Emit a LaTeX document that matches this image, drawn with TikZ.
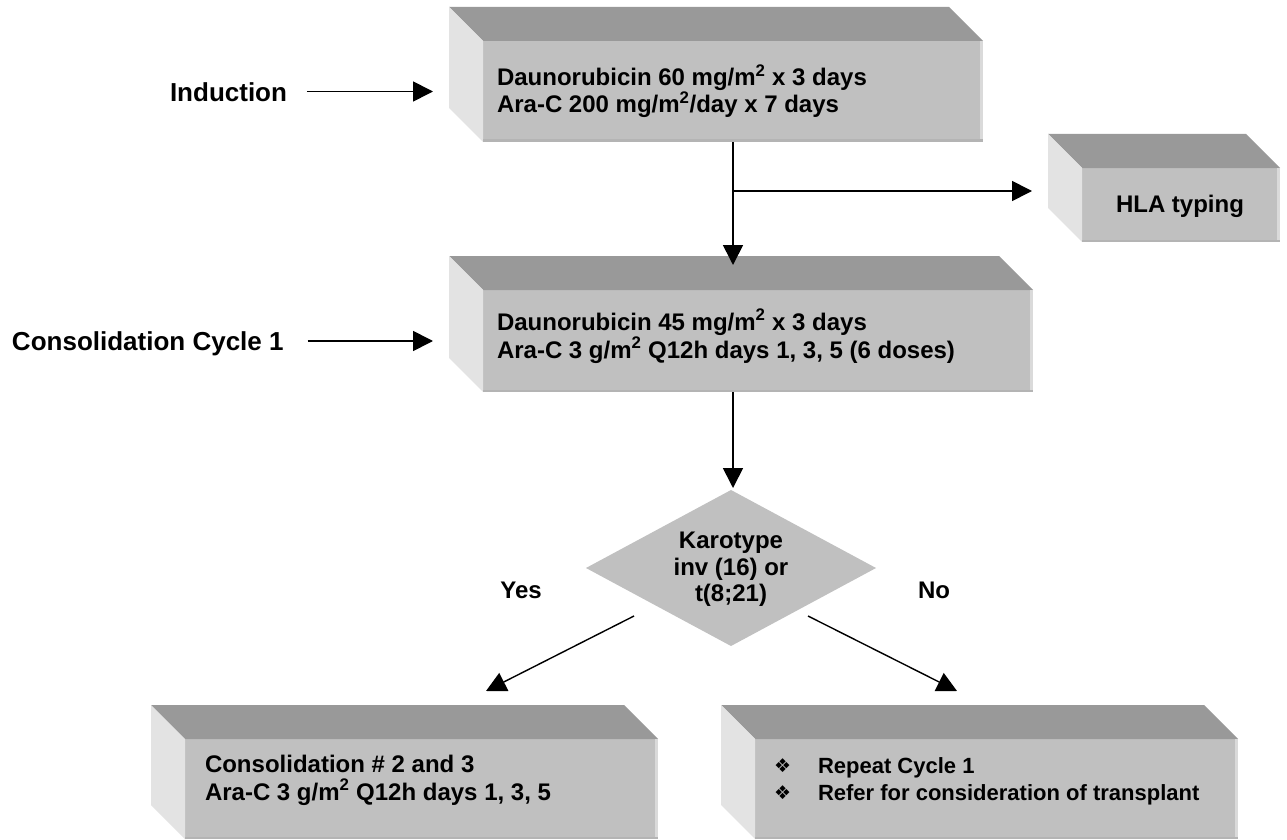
\documentclass[tikz,border=0pt]{standalone}
\usepackage{fontspec}
\setmainfont{Liberation Sans}
\newfontfamily\symfont{DejaVu Sans}
\usetikzlibrary{arrows.meta,calc,shapes.geometric}
\definecolor{frontc}{HTML}{C0C0C0}
\definecolor{topc}{HTML}{999999}
\definecolor{sidec}{HTML}{E3E3E3}
\definecolor{edgec}{HTML}{DADADA}
\definecolor{bottomc}{HTML}{B4B4B4}
\newcommand{\bevelfaces}[1]{%
  \fill[topc] (#1.north west) -- ++(-34,-34) -- ([shift={(-34pt,34pt)}]#1.north east) -- (#1.north east) -- cycle;
  \fill[sidec] (#1.north west) -- ++(-34,-34) -- ([shift={(-34pt,34pt)}]#1.south west) -- (#1.south west) -- cycle;
  \fill[edgec] ([xshift=-3pt]#1.north east) rectangle (#1.south east);
  \fill[bottomc] ([yshift=2.5pt]#1.south west) rectangle (#1.south east);
}
\begin{document}
\begin{tikzpicture}[x=1pt,y=-1pt,
  every node/.style={inner sep=0pt,outer sep=0pt},
  front/.style={fill=frontc},
  boxtxt/.style={font=\bfseries\fontsize{24}{27}\selectfont,anchor=base west},
  smalltxt/.style={font=\bfseries\fontsize{22}{26}\selectfont,anchor=base west},
  lbl/.style={font=\bfseries\fontsize{26}{30}\selectfont,anchor=base west},
  bul/.style={font=\symfont\fontsize{19}{19}\selectfont,anchor=west},
  arr/.style={line width=1.7pt,-{Triangle[length=20pt,width=20pt]}},
  arrd/.style={line width=1.4pt,-{Triangle[length=20pt,width=20pt]}}]
\fill[white] (0,0) rectangle (1287,840);
\useasboundingbox (0,0) rectangle (1287,840);

% boxes (front faces)
\node[front,minimum width=500,minimum height=101] (topb) at (733,91.5) {};
\node[front,minimum width=550,minimum height=102] (midb) at (758,341) {};
\node[front,minimum width=198,minimum height=74] (hla) at (1181,205) {};
\node[front,minimum width=473,minimum height=100] (bl) at (421.5,789) {};
\node[front,minimum width=483,minimum height=100] (br) at (996.5,789) {};
\bevelfaces{topb}
\bevelfaces{midb}
\bevelfaces{hla}
\bevelfaces{bl}
\bevelfaces{br}

% diamond
\node[diamond,fill=frontc,minimum width=290,minimum height=156] (dia) at (731,568) {};

% texts
\node[boxtxt] (t1a) at (497,86) {Daunorubicin 60 mg/m\textsuperscript{2} x 3 days};
\node[boxtxt] (t1b) at (497,113) {Ara-C 200 mg/m\textsuperscript{2}/day x 7 days};
\node[boxtxt,anchor=base] (hlat) at (1180,212) {HLA typing};
\node[boxtxt] (t2a) at (497,330) {Daunorubicin 45 mg/m\textsuperscript{2} x 3 days};
\node[boxtxt] (t2b) at (497,358) {Ara-C 3 g/m\textsuperscript{2} Q12h days 1, 3, 5 (6 doses)};
\node[boxtxt,anchor=base] (d1) at (731,548) {Karotype};
\node[boxtxt,anchor=base] (d2) at (731,575) {inv (16) or};
\node[boxtxt,anchor=base] (d3) at (731,601) {t(8;21)};
\node[boxtxt,anchor=base] (yes) at (521,598) {Yes};
\node[boxtxt,anchor=base] (no) at (934,598) {No};
\node[boxtxt] (t3a) at (205,772) {Consolidation \# 2 and 3};
\node[boxtxt] (t3b) at (205,800) {Ara-C 3 g/m\textsuperscript{2} Q12h days 1, 3, 5};
\node[bul] (b1) at (774,766) {❖};
\node[bul] (b2) at (774,793) {❖};
\node[smalltxt] (t4a) at (818,773) {Repeat Cycle 1};
\node[smalltxt] (t4b) at (818,800) {Refer for consideration of transplant};

% left labels
\node[lbl] (ind) at (170,102) {Induction};
\node[lbl] (cons) at (12,350) {Consolidation Cycle 1};

% connectors
\draw[arr] ($(ind.east |- topb.west)+(20,0)$) -- ($(topb.west)+(-50,0)$);
\draw[arr] ($(cons.east |- midb.west)+(24,0)$) -- ($(midb.west)+(-50,0)$);
\draw[arr] (topb.south) -- ($(topb.south |- midb.north)+(0,-25)$);
\coordinate (brn) at ($(topb.south)+(0,49)$);
\coordinate (hlain) at ($(hla.west)+(-50,0)$);
\draw[arr] (brn) -- (brn -| hlain);
\draw[arr] (topb.south |- midb.south) -- ($(topb.south |- dia.north)+(0,-2)$);
\coordinate (ys) at ($(dia.center)+(-97,48)$);
\coordinate (ye) at ($(bl.north)+(64.5,-48)$);
\coordinate (ns) at ($(dia.center)+(77,48)$);
\coordinate (ne) at ($(br.north)+(-39.5,-48)$);
\draw[arrd] (ys) -- (ye);
\draw[arrd] (ns) -- (ne);
\end{tikzpicture}
\end{document}
